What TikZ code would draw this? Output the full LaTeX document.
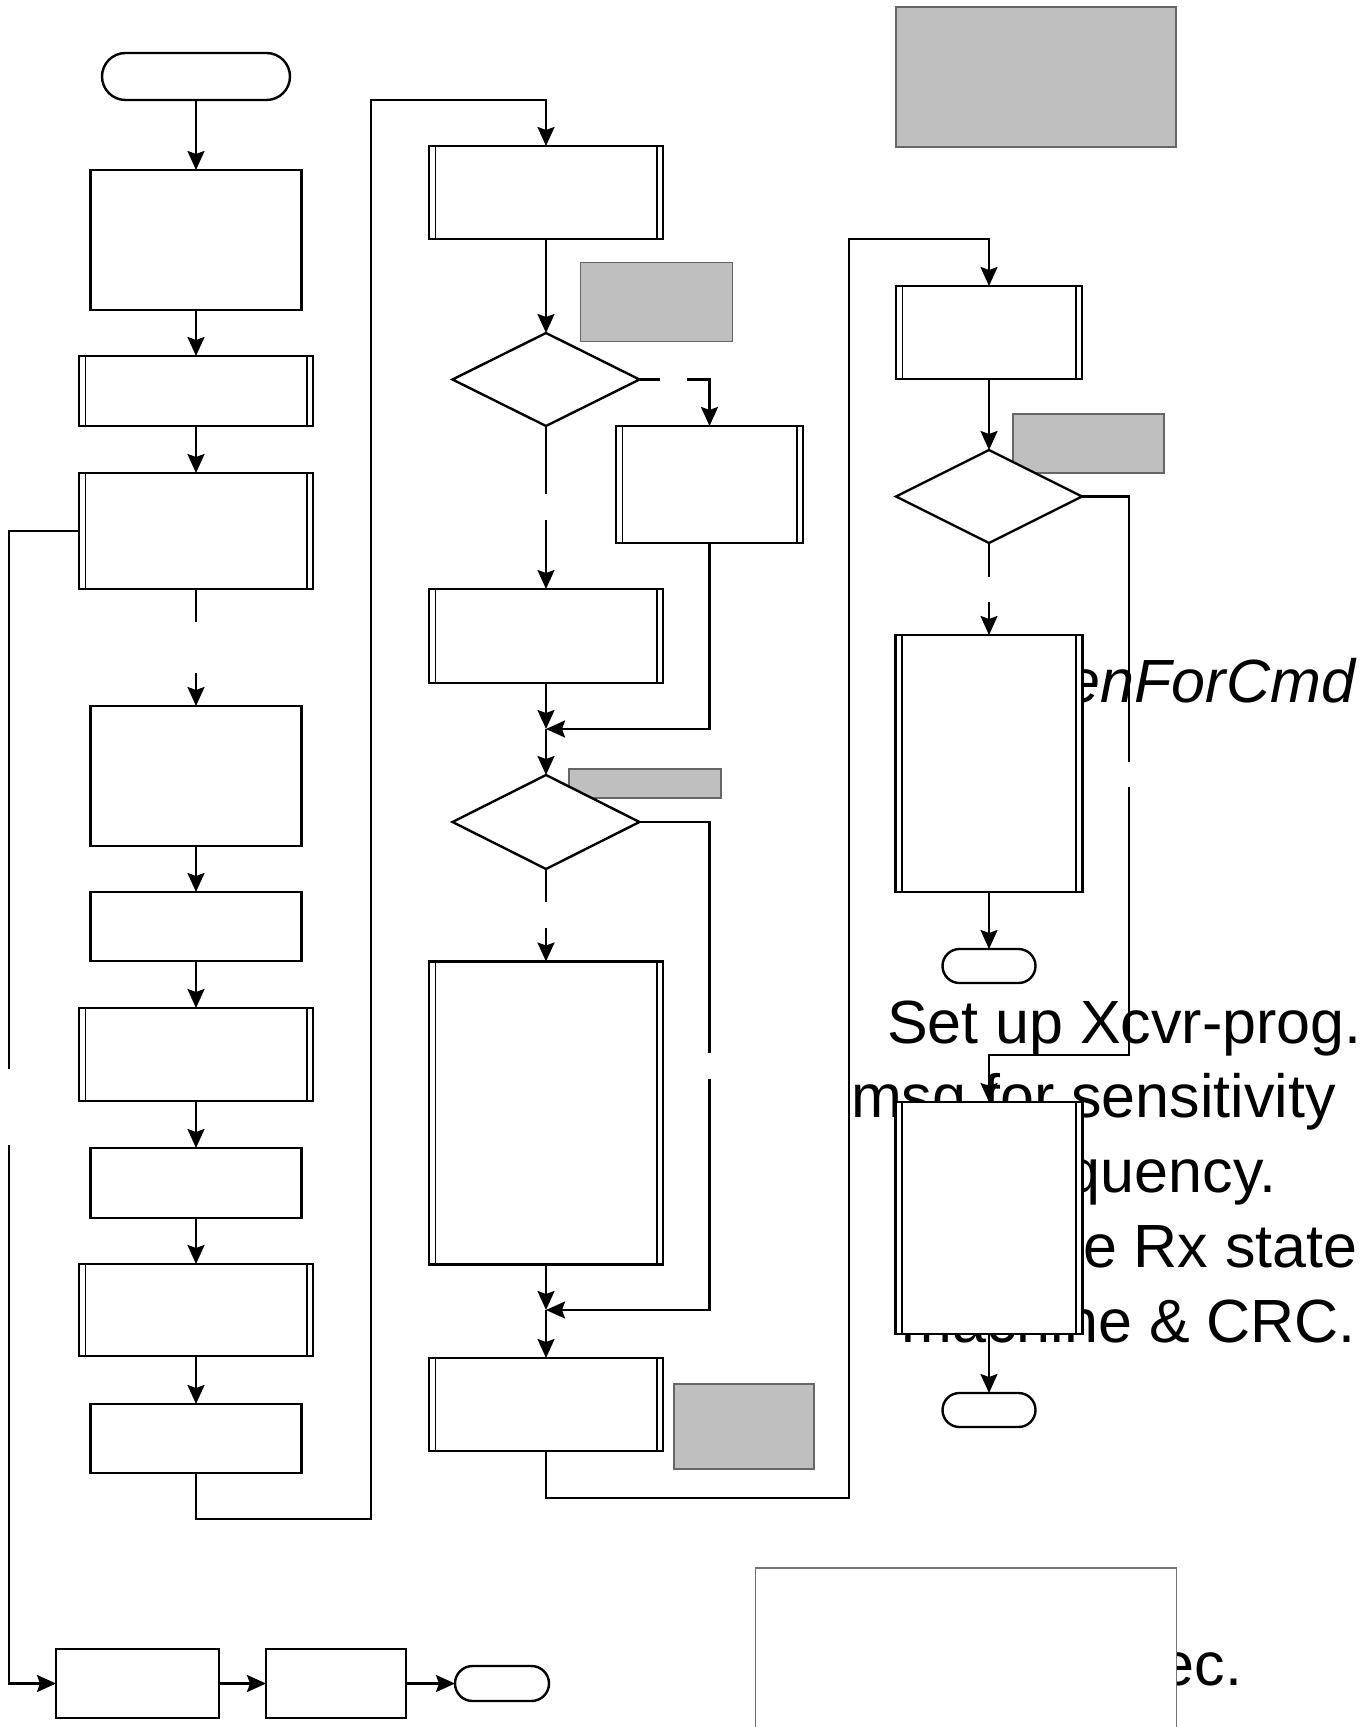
\documentclass[tikz,border=0pt]{standalone}
\usepackage{fontspec}
\newfontfamily\arialf{Liberation Sans}
\usepackage{tikz}
\usetikzlibrary{arrows.meta, shapes.geometric, shapes.misc}

\begin{document}
\begin{tikzpicture}[x=0.5pt, y=-0.5pt,
    every node/.style={inner sep=0pt, outer sep=0pt},
    proc/.style={draw, fill=white, line width=1.2pt, rectangle},
    subr/.style={proc, path picture={
        \draw[line width=0.9pt] ([xshift=3.2pt]path picture bounding box.north west) -- ([xshift=3.2pt]path picture bounding box.south west)
            ([xshift=-3.2pt]path picture bounding box.north east) -- ([xshift=-3.2pt]path picture bounding box.south east);}},
    term/.style={draw, fill=white, line width=1.2pt, rounded rectangle},
    dec/.style={draw, fill=white, line width=1.2pt, diamond},
    note/.style={draw=black!60, fill=black!25, line width=0.6pt, rectangle},
    bigtxt/.style={font=\arialf\fontsize{30.5pt}{37pt}\selectfont, anchor=base west},
    flow/.style={line width=1.2pt, -{Stealth[length=9.5pt, width=8.5pt, inset=1.5pt]}},
    link/.style={line width=1.2pt}
]
    \useasboundingbox (0,0) rectangle (1362,1727);

    % texts behind the boxes
    \node[bigtxt, anchor=base east, font=\arialf\itshape\fontsize{30.5pt}{37pt}\selectfont] (cmdname) at (1355,702) {enForCmd};
    \node[bigtxt] (s1) at (887,1043) {Set up Xcvr-prog.};
    \node[bigtxt] (s2) at (851,1117) {msg for sensitivity};
    \node[bigtxt, anchor=base east] (s3) at (1276,1192) {quency.};
    \node[bigtxt] (s4) at (1083,1267) {e Rx state};
    \node[bigtxt, anchor=base east] (s5) at (1356,1342) {machine \& CRC.};
    \node[bigtxt, anchor=base east] (s6) at (1242,1685) {ec.};

    % grey notes
    \node[note, minimum width=76pt, minimum height=39.5pt] (n1) at (656.5,302) {};
    \node[note, minimum width=76pt, minimum height=14.5pt] (n2) at (645,783.5) {};
    \node[note, minimum width=70pt, minimum height=42.5pt] (n3) at (744,1426.5) {};
    \node[note, minimum width=140pt, minimum height=70pt] (n4) at (1036,77) {};
    \node[note, minimum width=75.5pt, minimum height=29.5pt] (n5) at (1088.5,443.5) {};

    % first column
    \node[term, minimum width=94pt, minimum height=23.5pt] (st) at (196,76.5) {};
    \node[proc, minimum width=105.5pt, minimum height=70pt] (a1) at (196,240) {};
    \node[subr, minimum width=117pt, minimum height=35pt] (a2) at (196,391) {};
    \node[subr, minimum width=117pt, minimum height=58pt] (a3) at (196,531) {};
    \node[proc, minimum width=105.5pt, minimum height=70pt] (a4) at (196,776) {};
    \node[proc, minimum width=105.5pt, minimum height=34.5pt] (a5) at (196,926.5) {};
    \node[subr, minimum width=117pt, minimum height=46.5pt] (a6) at (196,1054.5) {};
    \node[proc, minimum width=105.5pt, minimum height=35pt] (a7) at (196,1183) {};
    \node[subr, minimum width=117pt, minimum height=46pt] (a8) at (196,1310) {};
    \node[proc, minimum width=105.5pt, minimum height=34.5pt] (a9) at (196,1438.5) {};

    \node[proc, minimum width=81.5pt, minimum height=34.5pt] (b1) at (137.5,1683.5) {};
    \node[proc, minimum width=70pt, minimum height=34.5pt] (b2) at (336,1683.5) {};
    \node[term, minimum width=47pt, minimum height=17.5pt] (en) at (502,1683.5) {};

    % second column
    \node[subr, minimum width=117pt, minimum height=46.5pt] (m1) at (546,192.5) {};
    \node[dec, minimum width=93.5pt, minimum height=46.5pt] (d1) at (546,379.5) {};
    \node[subr, minimum width=93.5pt, minimum height=58.5pt] (m2) at (709.5,484.5) {};
    \node[subr, minimum width=117pt, minimum height=47pt] (m3) at (546,636) {};
    \coordinate (j1) at (546,729);
    \node[dec, minimum width=93.5pt, minimum height=47pt] (d2) at (546,822) {};
    \node[subr, minimum width=117pt, minimum height=151.5pt] (m4) at (546,1113) {};
    \coordinate (j2) at (546,1310);
    \node[subr, minimum width=117pt, minimum height=46.5pt] (m5) at (546,1404.5) {};

    % third column
    \node[subr, minimum width=93pt, minimum height=46.5pt] (r1) at (989,332.5) {};
    \node[dec, minimum width=93pt, minimum height=46.5pt] (d3) at (989,496.5) {};
    \node[subr, minimum width=93.5pt, minimum height=128.5pt] (r2) at (989,763.5) {};
    \node[term, minimum width=46.5pt, minimum height=17pt] (t2) at (989,966) {};
    \node[subr, minimum width=93.5pt, minimum height=116pt] (r3) at (989,1218) {};
    \node[term, minimum width=46.5pt, minimum height=17pt] (t3) at (989,1410) {};

    \node[draw=black!55, fill=white, line width=0.6pt, minimum width=210.5pt, minimum height=90pt, anchor=north west] (memo) at (755.5,1568) {};

    % connectors, first column
    \draw[flow] (st) -- (a1);
    \draw[flow] (a1) -- (a2);
    \draw[flow] (a2) -- (a3);
    \coordinate (g1) at (196,622);
    \coordinate (g2) at (196,673);
    \draw[link] (a3) -- (g1);
    \draw[flow] (g2) -- (a4);
    \draw[flow] (a4) -- (a5);
    \draw[flow] (a5) -- (a6);
    \draw[flow] (a6) -- (a7);
    \draw[flow] (a7) -- (a8);
    \draw[flow] (a8) -- (a9);
    \coordinate (up1) at (371,1519);
    \coordinate (up2) at (371,100);
    \draw[flow] (a9.south) |- (up1) -- (up2) -| (m1.north);

    \coordinate (lp1) at (9,1069);
    \coordinate (lp2) at (9,1145);
    \draw[link] (a3.west) -| (lp1);
    \draw[flow] (lp2) |- (b1.west);
    \draw[flow] (b1) -- (b2);
    \draw[flow] (b2) -- (en);

    % connectors, second column
    \draw[flow] (m1) -- (d1);
    \coordinate (h1) at (660,379.5);
    \coordinate (h2) at (687,379.5);
    \draw[link] (d1.east) -- (h1);
    \draw[flow] (h2) -| (m2.north);
    \coordinate (v1) at (546,494);
    \coordinate (v2) at (546,520);
    \draw[link] (d1.south) -- (v1);
    \draw[flow] (v2) -- (m3.north);
    \draw[flow] (m3.south) -- (j1);
    \draw[flow] (m2.south) |- (j1);
    \draw[flow] (j1) -- (d2.north);
    \coordinate (v3) at (709.5,1053);
    \coordinate (v4) at (709.5,1079);
    \draw[link] (d2.east) -| (v3);
    \draw[flow] (v4) |- (j2);
    \coordinate (v5) at (546,902);
    \coordinate (v6) at (546,928);
    \draw[link] (d2.south) -- (v5);
    \draw[flow] (v6) -- (m4.north);
    \draw[flow] (m4.south) -- (j2);
    \draw[flow] (j2) -- (m5.north);
    \coordinate (up3) at (849,1498);
    \coordinate (up4) at (849,239);
    \draw[flow] (m5.south) |- (up3) -- (up4) -| (r1.north);

    % connectors, third column
    \draw[flow] (r1) -- (d3);
    \coordinate (v7) at (1129,762);
    \coordinate (v8) at (1129,787);
    \draw[link] (d3.east) -| (v7);
    \coordinate (cr) at (1129,1055);
    \draw[flow] (v8) -- (cr) -| (r3.north);
    \coordinate (v9) at (989,577);
    \coordinate (v10) at (989,602);
    \draw[link] (d3.south) -- (v9);
    \draw[flow] (v10) -- (r2.north);
    \draw[flow] (r2) -- (t2);
    \draw[flow] (r3) -- (t3);
\end{tikzpicture}
\end{document}
